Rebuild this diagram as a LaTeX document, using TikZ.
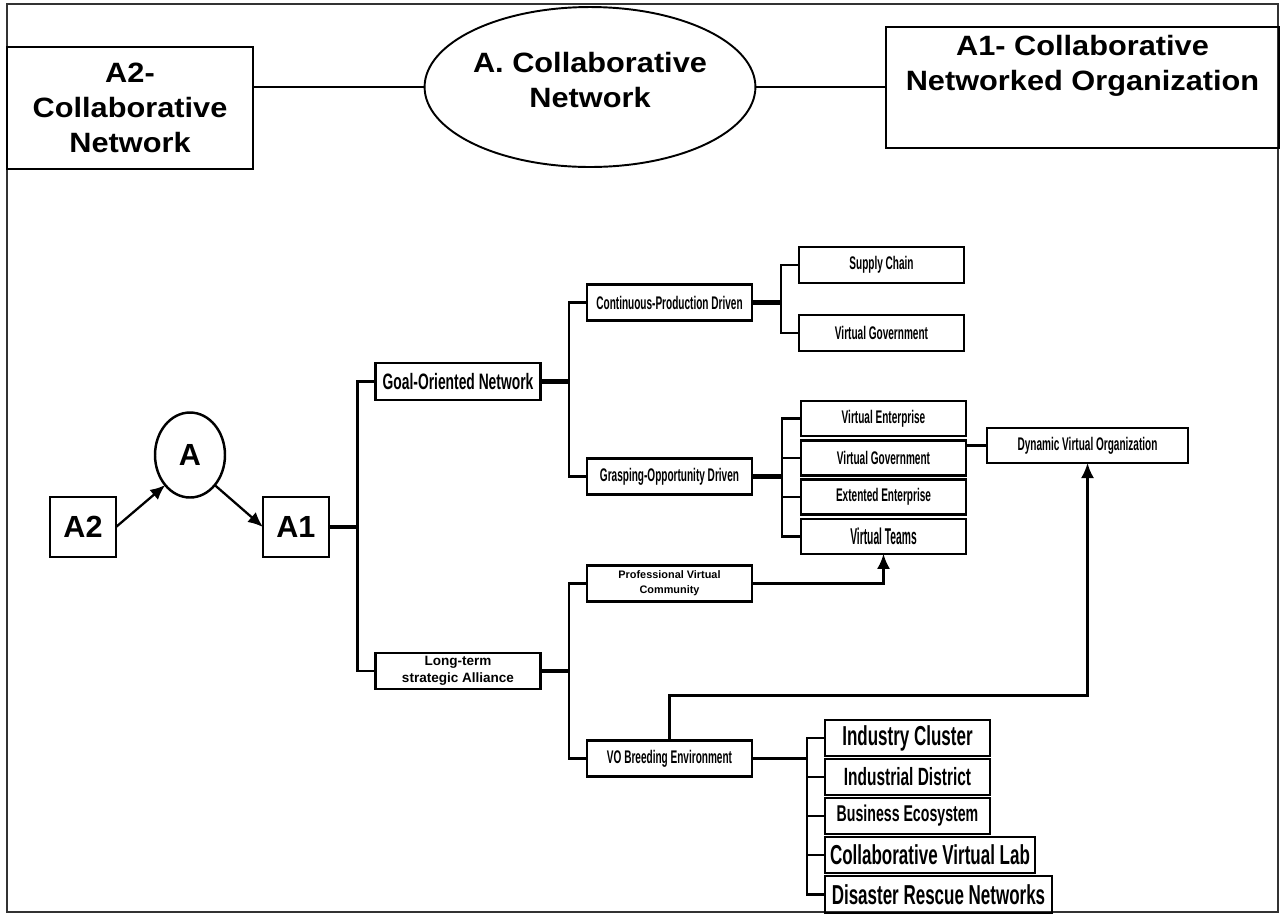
\documentclass[tikz,border=0pt]{standalone}
\usepackage{fontspec}
\setmainfont{Liberation Sans}
\newfontfamily\widefont[FakeStretch=1.1]{Liberation Sans}
\newfontfamily\condfont[FakeStretch=0.62]{Liberation Sans}
\newfontfamily\tightfont[FakeStretch=0.55]{Liberation Sans}
\newfontfamily\narrowfont[FakeStretch=0.45]{Liberation Sans}
\usepackage{tikz}
\usetikzlibrary{arrows.meta,positioning,shapes.geometric}

\begin{document}
\begin{tikzpicture}[
  x=0.02cm, y=-0.02cm,
  topbox/.style={draw, line width=1.1pt, align=center, outer sep=0pt,
    font=\widefont\bfseries\fontsize{15.9}{20}\selectfont},
  lettbox/.style={draw, line width=1.4pt, minimum width=1.32cm,
    minimum height=1.2cm, inner sep=0pt, outer sep=0pt,
    font=\bfseries\fontsize{17.4}{20}\selectfont},
  box/.style={draw, line width=1.4pt, align=center, inner sep=1pt, outer sep=0pt,
    minimum width=3.3cm, minimum height=0.72cm,
    font=\tightfont\bfseries\fontsize{10.4}{12}\selectfont},
  bigbox/.style={box, minimum height=0.72cm,
    font=\condfont\bfseries\fontsize{15.6}{18}\selectfont},
  link/.style={line width=1.3pt},
  thickline/.style={line width=2.5pt},
  arrow/.style={-{Latex[length=3mm,width=2.6mm]}, line width=1.3pt}
]
\useasboundingbox (0,0) rectangle (1281,914);
\draw[line width=0.8pt, black!80] (7,4) rectangle (1278,912);

% top row
\node[topbox, minimum width=4.92cm, minimum height=2.44cm] (a2box) at (130,108)
  {A2-\\Collaborative\\Network};
\node[topbox, ellipse, inner sep=0pt, minimum width=6.54cm, minimum height=3.2cm,
  text depth=0.28cm] (topnet) at (590,87) {A. Collaborative\\Network};
\node[topbox, anchor=north, minimum width=7.86cm, inner ysep=0.16cm,
  text depth=1cm] (a1box) at (1082.5,27) {A1- Collaborative\\Networked Organization};

% A2 -> A -> A1
\node[lettbox] (a2) at (83,527) {A2};
\node[lettbox, right=2.94cm of a2] (a1) {A1};
\node[lettbox, ellipse, minimum width=1.4cm, minimum height=1.7cm] (acirc) at (190,455) {A};

% first split
\node[box, minimum height=0.74cm,
  font=\condfont\bfseries\fontsize{12.7}{14}\selectfont] (goal) at (458,381.5) {Goal-Oriented Network};
\node[box, below=5.06cm of goal,
  font=\bfseries\fontsize{7.7}{9.5}\selectfont] (longterm) {Long-term\\strategic Alliance};

% second split
\node[box] (cont) at (669.5,302.5) {Continuous-Production Driven};
\node[box, below=2.76cm of cont] (grasp) {Grasping-Opportunity Driven};
\node[box, below=1.42cm of grasp,
  font=\bfseries\fontsize{6.2}{8.5}\selectfont] (pvc) {Professional Virtual\\Community};
\node[box, below=2.78cm of pvc] (vobe) {VO Breeding Environment};

% leaves
\node[box] (supply) at (881.5,265) {Supply Chain};
\node[box, below=0.64cm of supply] (vgov1) {Virtual Government};

\node[box, minimum height=0.7cm] (venter) at (883.5,418.5) {Virtual Enterprise};
\node[box, minimum height=0.7cm, below=0.086cm of venter] (vgov2) {Virtual Government};
\node[box, minimum height=0.7cm, below=0.086cm of vgov2] (extent) {Extented Enterprise};
\node[box, minimum height=0.7cm, below=0.086cm of extent,
  font=\narrowfont\bfseries\fontsize{13}{15}\selectfont] (vteams) {Virtual Teams};
\node[box, minimum width=4.02cm, minimum height=0.7cm] (dvo) at (1087.5,445.5)
  {Dynamic Virtual Organization};

\node[bigbox] (industry) at (907.5,738) {Industry Cluster};
\node[bigbox, below=0.06cm of industry.south west, anchor=north west,
  font=\condfont\bfseries\fontsize{14.2}{16}\selectfont] (indist) {Industrial District};
\node[bigbox, below=0.06cm of indist.south west, anchor=north west,
  font=\condfont\bfseries\fontsize{13}{15}\selectfont] (busin) {Business Ecosystem};
\node[bigbox, below=0.06cm of busin.south west, anchor=north west,
  minimum width=4.2cm] (collab) {Collaborative Virtual Lab};
\node[bigbox, below=0.06cm of collab.south west, anchor=north west,
  minimum width=4.54cm, minimum height=0.74cm] (disaster) {Disaster Rescue Networks};

% connectors
\draw[link] (topnet.west) -- (topnet.west -| a2box.east);
\draw[link] (topnet.east) -- (topnet.east -| a1box.west);
\draw[arrow] (a2.east) -- (acirc.south west);
\draw[arrow] (acirc.south east) -- (a1.west);

\draw[link] (goal.west) -- ++(-18,0) coordinate (bus1) |- (longterm.west);
\draw[thickline] (a1.east) -- (a1.east -| bus1);

\draw[link] (cont.west) -- ++(-18,0) coordinate (bus2) |- (grasp.west);
\draw[thickline] (goal.east) -- (goal.east -| bus2);
\draw[link] (pvc.west) -- ++(-18,0) coordinate (bus3) |- (vobe.west);
\draw[thickline] (longterm.east) -- (longterm.east -| bus3);

\draw[link] (supply.west) -- ++(-18,0) coordinate (bus4) |- (vgov1.west);
\draw[thickline] (cont.east) -- (cont.east -| bus4);

\draw[link] (venter.west) -- ++(-19,0) coordinate (bus5) |- (vteams.west);
\draw[link] (vgov2.west) -- (vgov2.west -| bus5);
\draw[link] (extent.west) -- (extent.west -| bus5);
\draw[thickline] (grasp.east) -- (grasp.east -| bus5);
\draw[link] (dvo.west) -- (dvo.west -| vgov2.east);

\draw[link] (industry.west) -- ++(-18,0) coordinate (bus6) |- (disaster.west);
\draw[link] (indist.west) -- (indist.west -| bus6);
\draw[link] (busin.west) -- (busin.west -| bus6);
\draw[link] (collab.west) -- (collab.west -| bus6);
\draw[link] (vobe.east) -- (vobe.east -| bus6);

\draw[arrow] (pvc.east) -| (vteams.south);
\draw[arrow] (vobe.north) -- ++(0,-45) -| (dvo.south);
\end{tikzpicture}
\end{document}
